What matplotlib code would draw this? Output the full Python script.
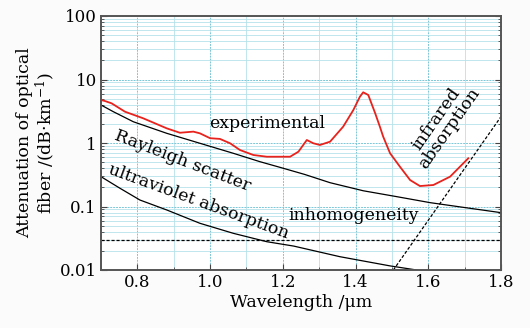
import numpy as np
import matplotlib
matplotlib.use('Agg')
import matplotlib.pyplot as plt
from matplotlib.ticker import FixedLocator, NullFormatter, LogLocator

plt.rcParams['font.family'] = ['DejaVu Serif']
plt.rcParams['mathtext.fontset'] = 'dejavuserif'

# measured loss spectrum
exp_wl = [0.700, 0.711, 0.729, 0.766, 0.816, 0.881, 0.917, 0.954, 0.972, 1.000,
          1.027, 1.055, 1.082, 1.119, 1.156, 1.192, 1.220, 1.243, 1.266, 1.284,
          1.302, 1.330, 1.366, 1.394, 1.412, 1.421, 1.435, 1.454, 1.467, 1.476,
          1.495, 1.522, 1.550, 1.577, 1.614, 1.660, 1.710]
exp_loss = [4.75, 4.58, 4.22, 3.11, 2.45, 1.70, 1.45, 1.51, 1.42, 1.19,
            1.16, 0.99, 0.776, 0.647, 0.608, 0.608, 0.608, 0.73, 1.115, 0.99,
            0.93, 1.05, 1.81, 3.31, 5.36, 6.29, 5.70, 2.94, 1.80, 1.26,
            0.688, 0.424, 0.261, 0.21, 0.218, 0.295, 0.574]

# Rayleigh scattering
ray_wl = [0.700, 0.734, 0.789, 0.881, 0.972, 1.064, 1.137, 1.192, 1.260,
          1.330, 1.421, 1.513, 1.605, 1.696, 1.800]
ray_loss = [3.97, 3.11, 2.16, 1.42, 0.99, 0.688, 0.508, 0.414, 0.320,
            0.237, 0.177, 0.143, 0.115, 0.097, 0.080]

# ultraviolet absorption
uv_wl = [0.700, 0.752, 0.807, 0.881, 0.972, 1.064, 1.156, 1.230, 1.357,
         1.495, 1.568]
uv_loss = [0.295, 0.194, 0.1265, 0.0881, 0.0544, 0.0378, 0.0279, 0.0238, 0.0162,
           0.0116, 0.010]

# inhomogeneity level
inh_wl = [0.7, 1.8]
inh_loss = [0.0294, 0.0294]

# infrared absorption
ir_wl = [1.504, 1.8]
ir_loss = [0.01, 2.6]

fig = plt.figure(figsize=(5.3, 3.28), dpi=100, facecolor='#fbfbfb')
ax = fig.add_axes([101/530, 1 - 270/328, 400/530, 254/328])
ax.set_facecolor('white')

ax.plot(exp_wl, exp_loss, color='#e8221c', lw=1.3)
ax.plot(ray_wl, ray_loss, color='black', lw=0.9)
ax.plot(uv_wl, uv_loss, color='black', lw=0.9)
ax.plot(inh_wl, inh_loss, color='black', lw=0.9, ls=(0, (2.5, 1.5)))
ax.plot(ir_wl, ir_loss, color='black', lw=0.9, ls=(0, (2.5, 1.5)))

ax.set_yscale('log')
ax.set_xlim(0.7, 1.8)
ax.set_ylim(0.01, 100)
ax.set_xticks([0.8, 1.0, 1.2, 1.4, 1.6, 1.8])
ax.set_xticklabels(['0.8', '1.0', '1.2', '1.4', '1.6', '1.8'])
ax.xaxis.set_minor_locator(FixedLocator(np.arange(0.7, 1.81, 0.1)))
ax.set_yticks([0.01, 0.1, 1, 10, 100])
ax.set_yticklabels(['0.01', '0.1', '1', '10', '100'])
ax.yaxis.set_minor_locator(LogLocator(base=10, subs=np.arange(2, 10)))
ax.yaxis.set_minor_formatter(NullFormatter())

ax.grid(which='major', color='#7cc6d6', lw=0.7, ls=(0, (2, 1)))
ax.grid(which='minor', color='#b5e2ea', lw=0.6)
ax.set_axisbelow(True)

ax.tick_params(which='both', direction='in', top=False, right=True,
               labelsize=12, color='#444444', pad=3)
ax.tick_params(which='major', length=4)
ax.tick_params(which='minor', length=2.5)
for s in ax.spines.values():
    s.set_color('#555555')
    s.set_linewidth(1.4)

ax.set_xlabel('Wavelength /μm', fontsize=12.5, labelpad=2)
ax.set_ylabel('Attenuation of optical\nfiber /(dB·km$^{-1}$)', fontsize=12.5,
              linespacing=1.0, labelpad=2)

ax.text(1.158, 2.0, 'experimental', fontsize=12.5, ha='center', va='center')
ax.text(0.925, 0.52, 'Rayleigh scatter', fontsize=12.5, ha='center', va='center',
        rotation=-21, rotation_mode='anchor')
ax.text(0.967, 0.12, 'ultraviolet absorption', fontsize=12.5, ha='center',
        va='center', rotation=-20, rotation_mode='anchor')
ax.text(1.394, 0.072, 'inhomogeneity', fontsize=12.5, ha='center', va='center')
ax.text(1.64, 2.0, 'infrared\nabsorption', fontsize=12.5, ha='center',
        va='center', rotation=55, linespacing=0.95)

fig.savefig('out.png', dpi=100, facecolor=fig.get_facecolor())
